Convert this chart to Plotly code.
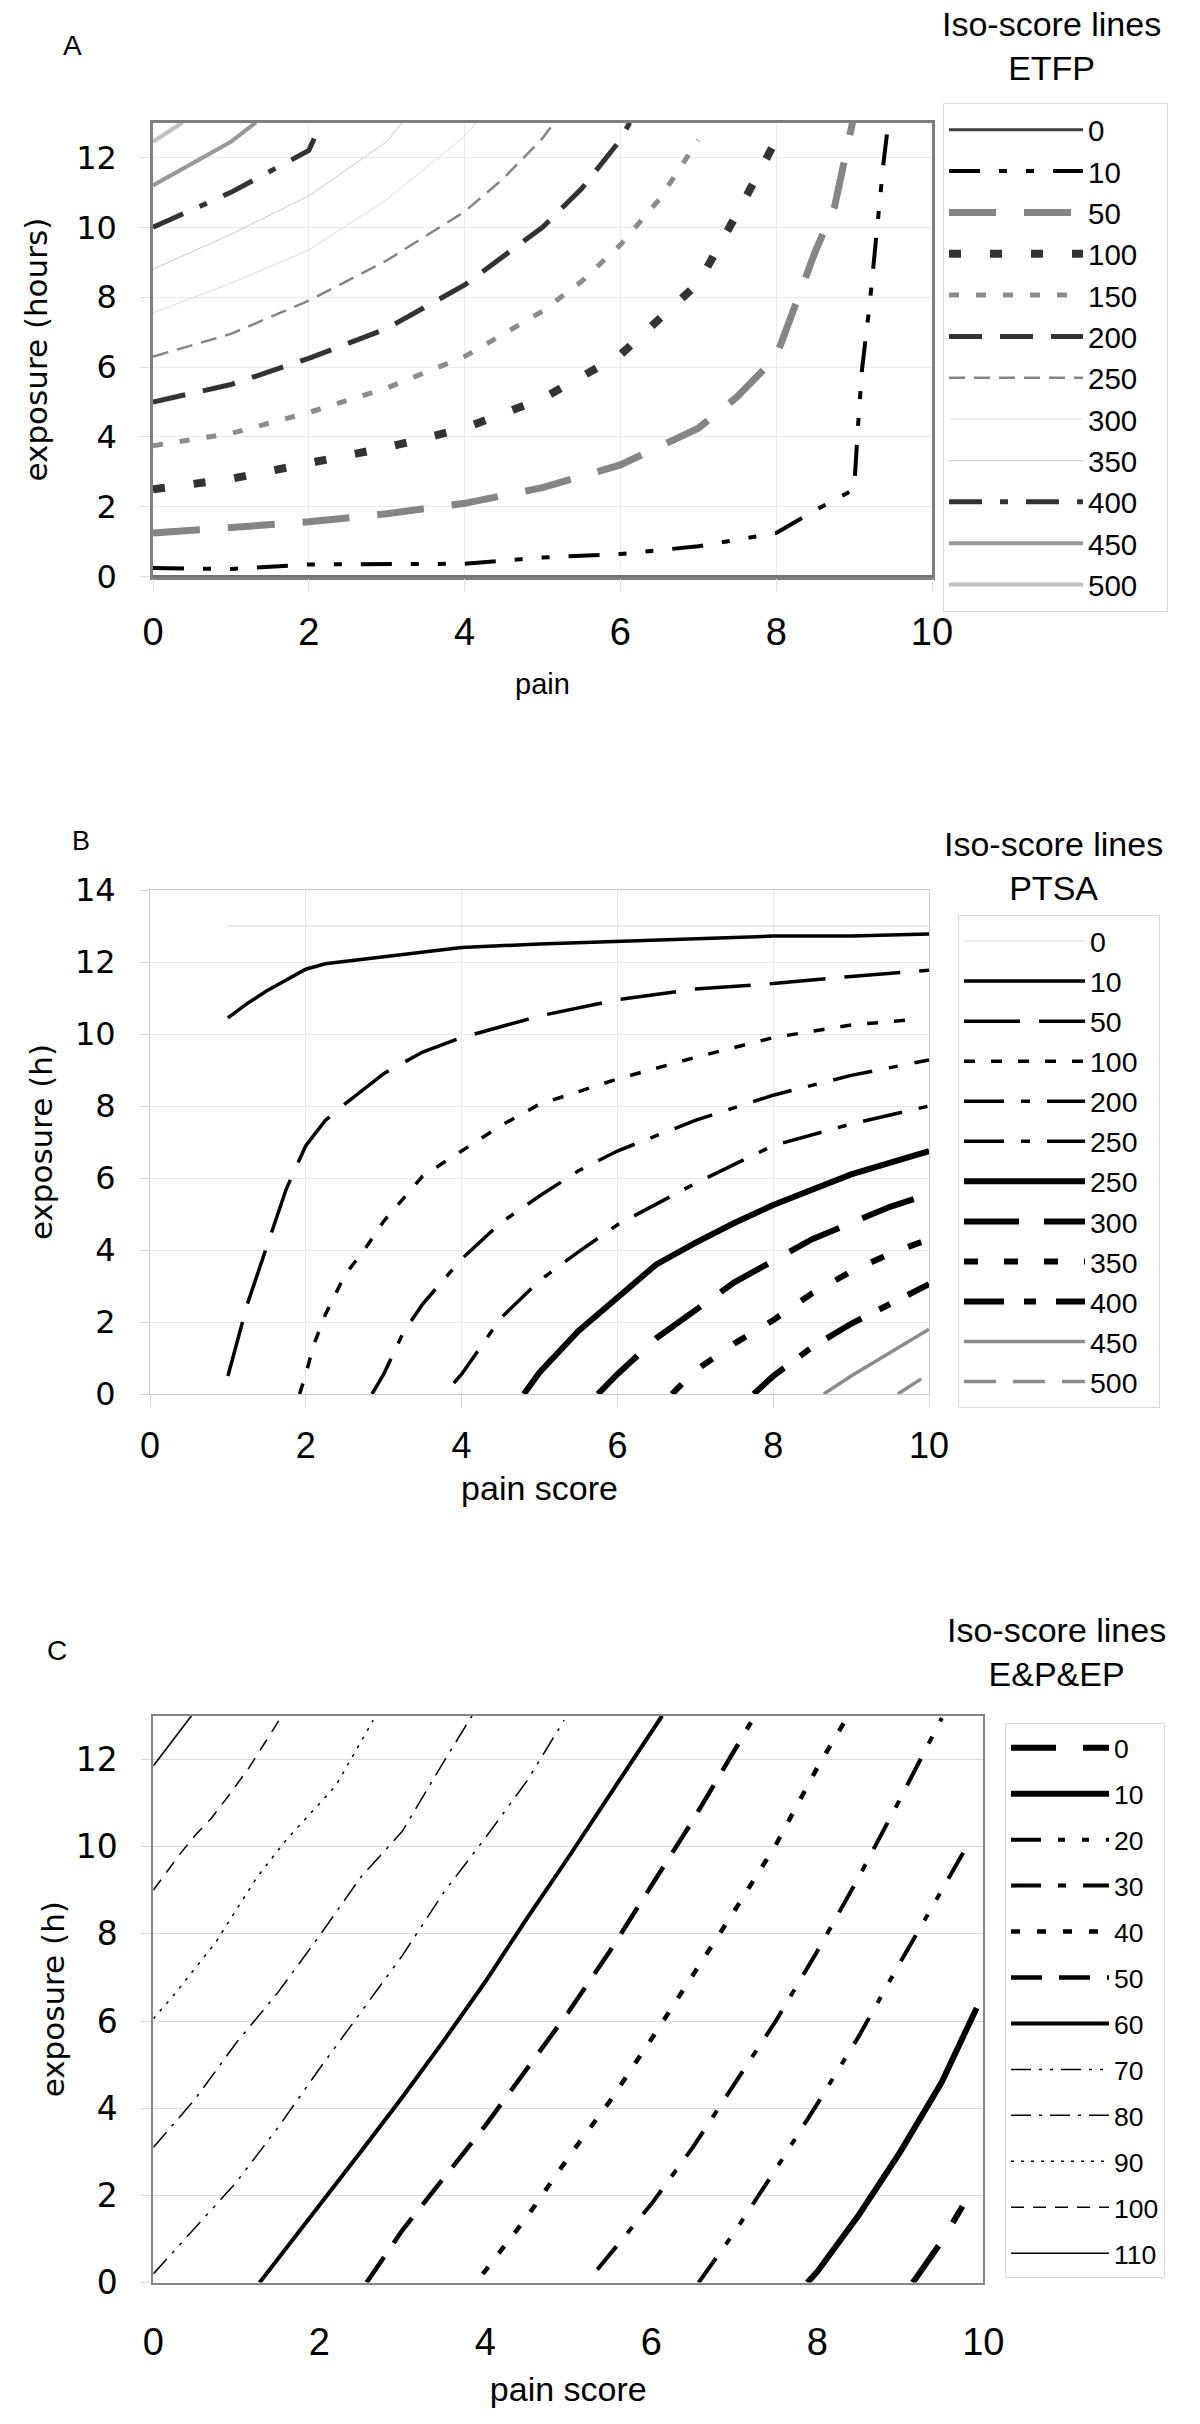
import plotly.graph_objects as go

W, H = 1200, 2424
FONT = "Liberation Sans, Arial, sans-serif"
VFONT = "DejaVu Sans, Verdana, sans-serif"

def fx(p):
    return p / W

def fy(p):
    return 1 - p / H

# ---------------- Panel A : ETFP ----------------
a_names = ["0", "10", "50", "100", "150", "200", "250", "300", "350", "400", "450", "500"]
a0_x = [0, 10]
a0_y = [0, 0]
a10_x = [0, 1, 2, 3, 4, 5, 6, 7, 8, 8.5, 9, 9.05, 9.1, 9.2, 9.3, 9.38, 9.44]
a10_y = [0.25, 0.22, 0.35, 0.35, 0.37, 0.55, 0.65, 0.87, 1.25, 1.9, 2.5, 4.3, 5.9, 7.8, 10.1, 11.9, 13.0]
a50_x = [0, 1, 2, 3, 4, 5, 6, 7, 7.5, 8, 8.5, 8.75, 8.98]
a50_y = [1.25, 1.4, 1.57, 1.8, 2.1, 2.55, 3.2, 4.25, 5.15, 6.3, 9.3, 10.6, 13.0]
a100_x = [0, 1, 2, 3, 4, 5, 6, 7, 7.5, 8]
a100_y = [2.5, 2.8, 3.25, 3.7, 4.25, 5.1, 6.35, 8.4, 10.4, 12.5]
a150_x = [0, 1, 2, 3, 4, 5, 5.5, 6, 6.5, 7]
a150_y = [3.75, 4.1, 4.7, 5.4, 6.3, 7.6, 8.45, 9.5, 10.8, 12.5]
a200_x = [0, 1, 2, 3, 4, 5, 5.5, 6, 6.12]
a200_y = [5.0, 5.5, 6.25, 7.1, 8.35, 10.0, 11.1, 12.5, 13.0]
a250_x = [0, 1, 2, 3, 4, 4.5, 5, 5.15]
a250_y = [6.3, 6.95, 7.9, 9.05, 10.45, 11.4, 12.55, 13.0]
a300_x = [0, 1, 2, 3, 4, 4.15]
a300_y = [7.55, 8.4, 9.35, 10.8, 12.6, 13.0]
a350_x = [0, 1, 2, 3, 3.2]
a350_y = [8.8, 9.8, 10.9, 12.45, 13.0]
a400_x = [0, 1, 2, 2.1]
a400_y = [10.0, 11.0, 12.2, 12.7]
a450_x = [0, 1, 1.32]
a450_y = [11.2, 12.45, 13.0]
a500_x = [0, 0.38]
a500_y = [12.45, 13.0]

# ---------------- Panel B : PTSA ----------------
b_names = ["0", "10", "50", "100", "200", "250", "250", "300", "350", "400", "450", "500"]
b0_x = [1, 10]
b0_y = [13, 13]
b10_x = [1, 1.25, 1.5, 1.75, 2, 2.25, 3, 4, 5, 6, 7, 8, 9, 10]
b10_y = [10.45, 10.85, 11.2, 11.5, 11.8, 11.95, 12.15, 12.4, 12.5, 12.57, 12.65, 12.72, 12.72, 12.78]
b50_x = [1, 1.25, 1.5, 1.75, 2, 2.25, 2.5, 3, 3.5, 4, 5, 6, 7, 8, 9, 10]
b50_y = [0.5, 2.5, 4.1, 5.7, 6.9, 7.6, 8.05, 8.9, 9.5, 9.9, 10.5, 10.95, 11.25, 11.4, 11.6, 11.77]
b100_x = [1.92, 2, 2.1, 2.25, 2.5, 2.75, 3, 3.5, 4, 4.5, 5, 6, 7, 8, 9, 9.8]
b100_y = [0, 0.55, 1.35, 2.2, 3.3, 4.0, 4.8, 6.05, 6.75, 7.45, 8.05, 8.75, 9.35, 9.9, 10.25, 10.4]
b200_x = [2.85, 3, 3.25, 3.5, 4, 4.5, 5, 5.5, 6, 7, 8, 9, 10]
b200_y = [0, 0.55, 1.7, 2.5, 3.75, 4.75, 5.5, 6.2, 6.75, 7.6, 8.3, 8.85, 9.28]
b250a_x = [3.9, 4, 4.5, 5, 5.5, 6, 7, 8, 9, 10]
b250a_y = [0.3, 0.55, 2.1, 3.15, 3.95, 4.7, 5.85, 6.9, 7.5, 8.0]
b250b_x = [4.8, 5, 5.5, 6, 6.5, 7, 7.5, 8, 9, 10]
b250b_y = [0, 0.6, 1.75, 2.7, 3.6, 4.2, 4.75, 5.25, 6.1, 6.75]
b300_x = [5.75, 6, 6.5, 7, 7.5, 8, 8.5, 9, 9.5, 10]
b300_y = [0, 0.55, 1.55, 2.35, 3.1, 3.7, 4.3, 4.75, 5.2, 5.55]
b350_x = [6.7, 7, 7.5, 8, 8.5, 9, 9.5, 10]
b350_y = [0, 0.65, 1.4, 2.05, 2.8, 3.4, 3.9, 4.3]
b400_x = [7.75, 8, 8.5, 9, 9.5, 10]
b400_y = [0, 0.5, 1.3, 1.95, 2.5, 3.05]
b450_x = [8.65, 9, 10]
b450_y = [0, 0.5, 1.8]
b500_x = [9.6, 9.9]
b500_y = [0, 0.42]

# ---------------- Panel C : E&P&EP ----------------
c_names = ["0", "10", "20", "30", "40", "50", "60", "70", "80", "90", "100", "110"]
c0_x = [9.15, 9.5, 9.75]
c0_y = [0, 0.95, 1.75]
c10_x = [7.88, 8.0, 8.5, 9.0, 9.5, 9.92]
c10_y = [0, 0.25, 1.55, 3.0, 4.6, 6.3]
c20_x = [6.57, 7.0, 7.5, 8.0, 8.5, 9.0, 9.5, 9.8]
c20_y = [0, 1.15, 2.6, 4.1, 5.65, 7.35, 9.0, 10.0]
c30_x = [5.35, 6.0, 6.5, 7.0, 7.5, 8.0, 8.5, 9.0, 9.5]
c30_y = [0.3, 1.8, 3.1, 4.55, 6.0, 7.6, 9.3, 11.1, 12.95]
c40_x = [3.97, 4.5, 5, 5.5, 6, 6.5, 7, 7.5, 8, 8.37]
c40_y = [0.2, 1.5, 2.87, 4.16, 5.58, 7.04, 8.52, 10.04, 11.81, 13.0]
c50_x = [2.57, 3, 3.5, 4, 4.5, 5, 5.5, 6, 6.5, 7, 7.2]
c50_y = [0, 1.2, 2.4, 3.6, 4.9, 6.2, 7.6, 9.1, 10.6, 12.2, 12.85]
c60_x = [1.28, 2, 2.5, 3, 3.5, 4, 4.5, 5, 5.5, 6.13]
c60_y = [0, 1.75, 3.0, 4.25, 5.55, 6.9, 8.35, 9.75, 11.2, 13.0]
c70_x = [0, 0.5, 1, 1.5, 2, 2.5, 3, 3.5, 4, 4.5, 4.95]
c70_y = [0.2, 1.25, 2.3, 3.55, 4.9, 6.2, 7.5, 8.95, 10.2, 11.5, 12.9]
c80_x = [0, 0.5, 1, 1.5, 2, 2.5, 3, 3.5, 3.84]
c80_y = [3.1, 4.2, 5.5, 6.65, 7.95, 9.3, 10.35, 11.95, 13.0]
c90_x = [0, 0.25, 0.75, 1.25, 1.6, 2.2, 2.65]
c90_y = [6.05, 6.6, 7.8, 9.3, 10.15, 11.4, 12.9]
c100_x = [0, 0.33, 0.5, 0.7, 0.9, 1.15, 1.55]
c100_y = [9.0, 9.85, 10.25, 10.65, 11.15, 11.8, 13.0]
c110_x = [0, 0.46]
c110_y = [11.85, 13.0]

x_ticks = [0, 2, 4, 6, 8, 10]

# styles: (color, width, dash)
a_styles = [
    ("#404040", 3, "solid"),
    ("#000000", 4, "31px,19px,8px,19px,8px,19px"),
    ("#858585", 7, "47px,28px"),
    ("#333333", 8, "12px,29px"),
    ("#8c8c8c", 5, "10px,17px"),
    ("#333333", 5, "33px,18px"),
    ("#858585", 2.5, "16px,9px"),
    ("#dcdcdc", 1, "solid"),
    ("#c8c8c8", 1, "solid"),
    ("#333333", 5, "33px,18px,8px,18px"),
    ("#999999", 4, "solid"),
    ("#c0c0c0", 4, "solid"),
]
b_styles = [
    ("#d9d9d9", 1, "solid"),
    ("#000000", 3.5, "solid"),
    ("#000000", 3.5, "56px,19px"),
    ("#000000", 3.5, "11px,16px"),
    ("#000000", 3.5, "40px,17px,9px,17px"),
    ("#000000", 3.5, "40px,17px,9px,17px"),
    ("#000000", 6, "solid"),
    ("#000000", 6, "55px,25px"),
    ("#000000", 6, "14px,26px"),
    ("#000000", 6, "40px,20px,12px,20px"),
    ("#8c8c8c", 3.5, "solid"),
    ("#8c8c8c", 3.5, "32px,17px"),
]
c_styles = [
    ("#000000", 6, "45px,27px"),
    ("#000000", 6, "solid"),
    ("#000000", 4, "30px,17px,7px,17px,7px,17px"),
    ("#000000", 4, "30px,17px,8px,17px"),
    ("#000000", 4.5, "9px,17px"),
    ("#000000", 4.5, "31px,17px"),
    ("#000000", 4, "solid"),
    ("#000000", 1.5, "20px,8px,3px,8px,3px,8px"),
    ("#000000", 1.5, "20px,8px,3px,8px"),
    ("#000000", 1.5, "3px,7px"),
    ("#000000", 1.5, "13px,9px"),
    ("#000000", 1.5, "solid"),
]

a_data = [(a0_x, a0_y), (a10_x, a10_y), (a50_x, a50_y), (a100_x, a100_y), (a150_x, a150_y),
          (a200_x, a200_y), (a250_x, a250_y), (a300_x, a300_y), (a350_x, a350_y),
          (a400_x, a400_y), (a450_x, a450_y), (a500_x, a500_y)]
b_data = [(b0_x, b0_y), (b10_x, b10_y), (b50_x, b50_y), (b100_x, b100_y), (b200_x, b200_y),
          (b250a_x, b250a_y), (b250b_x, b250b_y), (b300_x, b300_y), (b350_x, b350_y),
          (b400_x, b400_y), (b450_x, b450_y), (b500_x, b500_y)]
c_data = [(c0_x, c0_y), (c10_x, c10_y), (c20_x, c20_y), (c30_x, c30_y), (c40_x, c40_y),
          (c50_x, c50_y), (c60_x, c60_y), (c70_x, c70_y), (c80_x, c80_y), (c90_x, c90_y),
          (c100_x, c100_y), (c110_x, c110_y)]

fig = go.Figure()

# (tag, names, data, styles, xaxis, yaxis, legend, right padding of legend text)
panels = [
    ("A", a_names, a_data, a_styles, "x", "y", "legend", 3),
    ("B", b_names, b_data, b_styles, "x2", "y2", "legend2", 2),
    ("C", c_names, c_data, c_styles, "x3", "y3", "legend3", 0),
]
for tag, names, data, styles, xa, ya, lg, pad in panels:
    for i, (name, (xs, ys), (col, wid, dash)) in enumerate(zip(names, data, styles)):
        fig.add_trace(go.Scatter(
            x=xs, y=ys, mode="lines", name=name + "\u00a0" * pad,
            line=dict(color=col, width=wid, dash=dash),
            xaxis=xa, yaxis=ya, legend=lg,
            legendgroup=f"{tag}{i}", hoverinfo="skip",
        ))

def xaxis_cfg(domain, anchor, title, tfs, titlefs, linecolor, linewidth, grid, gridcolor,
              ticks, tickcolor, lstand, tstand):
    return dict(
        domain=domain, anchor=anchor, range=[0, 10], tickvals=x_ticks,
        showgrid=grid, gridcolor=gridcolor, gridwidth=1, zeroline=False,
        showline=True, mirror=True, linecolor=linecolor, linewidth=linewidth,
        ticks=ticks, ticklen=12, tickcolor=tickcolor, tickwidth=1,
        tickfont=dict(family=FONT, size=tfs, color="black"),
        ticklabelstandoff=lstand, automargin=False,
        title=dict(text=title, font=dict(family=FONT, size=titlefs, color="black"), standoff=tstand),
        fixedrange=True,
    )

def yaxis_cfg(domain, anchor, rng, tickvals, title, tfs, linecolor, linewidth, gridcolor,
              tickcolor, standoff):
    return dict(
        domain=domain, anchor=anchor, range=rng, tickvals=tickvals,
        showgrid=True, gridcolor=gridcolor, gridwidth=1, zeroline=False,
        showline=True, mirror=True, linecolor=linecolor, linewidth=linewidth,
        ticks="outside", ticklen=10, tickcolor=tickcolor, tickwidth=1,
        tickfont=dict(family=VFONT, size=tfs, color="black"),
        ticklabelstandoff=17, automargin=False,
        title=dict(text=title, font=dict(family=VFONT, size=31, color="black"), standoff=standoff),
        fixedrange=True,
    )

layout = dict(
    template="none",
    width=W, height=H, margin=dict(l=0, r=0, t=0, b=0, autoexpand=False),
    paper_bgcolor="white", plot_bgcolor="white",
    font=dict(family=FONT, color="black"),
    showlegend=True,
    xaxis=xaxis_cfg([fx(153), fx(932)], "y", "pain", 38, 29, "#7f7f7f", 2.5, True, "#ebebeb",
                    "outside", "#dedede", 8, 22),
    yaxis=yaxis_cfg([fy(576.7), fy(122.5)], "x", [0, 13], [0, 2, 4, 6, 8, 10, 12],
                    "exposure (hours)", 32, "#7f7f7f", 2.5, "#ebebeb", "#dedede", 20),
    xaxis2=xaxis_cfg([fx(150), fx(929)], "y2", "pain score", 36, 34, "#c8c8c8", 1, True, "#e6e6e6",
                     "outside", "#d4d4d4", 8, 10),
    yaxis2=yaxis_cfg([fy(1394), fy(890)], "x2", [0, 14], [0, 2, 4, 6, 8, 10, 12, 14],
                     "exposure (h)", 32, "#c8c8c8", 1, "#e6e6e6", "#d4d4d4", 13),
    xaxis3=xaxis_cfg([fx(153.3), fx(983.3)], "y3", "pain score", 38, 34, "#868686", 2, False, "#d9d9d9",
                     "", "#d9d9d9", 25, 15),
    yaxis3=yaxis_cfg([fy(2282.6), fy(1715.8)], "x3", [0, 13], [0, 2, 4, 6, 8, 10, 12],
                     "exposure (h)", 33, "#868686", 2, "#d9d9d9", "#d9d9d9", 2),
    legend=dict(x=fx(943), y=fy(103), xanchor="left", yanchor="top",
                bordercolor="#d9d9d9", borderwidth=1, bgcolor="white",
                font=dict(family=FONT, size=29.5, color="black"),
                itemwidth=134, traceorder="grouped", tracegroupgap=0),
    legend2=dict(x=fx(958), y=fy(915), xanchor="left", yanchor="top",
                 bordercolor="#d9d9d9", borderwidth=1, bgcolor="white",
                 font=dict(family=FONT, size=28.5, color="black"),
                 itemwidth=121, traceorder="grouped", tracegroupgap=0),
    legend3=dict(x=fx(1005), y=fy(1723), xanchor="left", yanchor="top",
                 bordercolor="#d9d9d9", borderwidth=1, bgcolor="white",
                 font=dict(family=FONT, size=26.5, color="black"),
                 itemwidth=98, traceorder="grouped", tracegroupgap=8.5),
)
fig.update_layout(**layout)

ann = [
    ("A", 72.7, 46, 28),
    ("B", 81, 841, 27),
    ("C", 57, 1650, 28),
    ("Iso-score lines<br>ETFP", 1051, 46.5, 34),
    ("Iso-score lines<br>PTSA", 1053, 866, 34),
    ("Iso-score lines<br>E&amp;P&amp;EP", 1056, 1652, 34),
]
for text, x, y, size in ann:
    fig.add_annotation(text=text, x=fx(x), y=fy(y), xref="paper", yref="paper",
                       xanchor="center", yanchor="middle", showarrow=False,
                       font=dict(family=FONT, size=size, color="black"))

fig.write_html("out.html", config={"displayModeBar": False},
               post_script="document.body.style.margin='0';")
